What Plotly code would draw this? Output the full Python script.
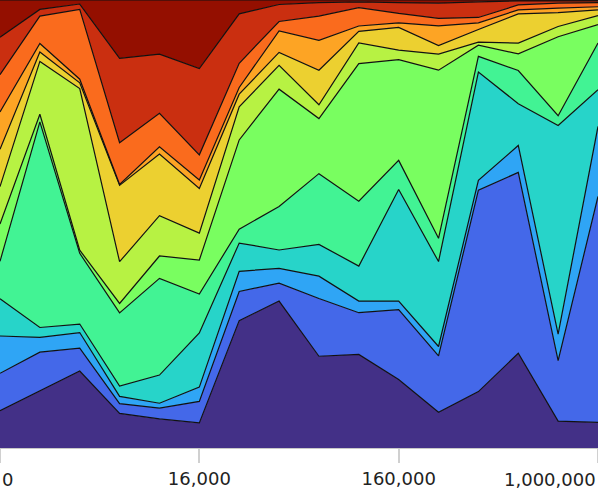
import plotly.graph_objs as go

# positions along the x axis (one per sample) and the labelled ticks
points = list(range(16))
tick_pos = [0, 5, 10, 15]
tick_labels = ['0', '16,000', '160,000', '1,000,000']

# share of each band (bottom to top)
purple = [8.3, 12.8, 17.2, 7.7, 6.5, 5.6, 28.4, 32.8, 20.5, 20.9, 15.3, 8.0, 12.6, 21.1, 6.0, 5.7]
blue = [8.3, 8.6, 5.1, 2.2, 2.4, 4.8, 6.5, 4.0, 12.9, 9.3, 15.6, 12.6, 45.0, 40.3, 13.5, 50.4]
light_blue = [8.3, 3.3, 3.5, 1.6, 1.1, 3.2, 4.5, 3.3, 5.0, 2.6, 1.9, 2.1, 2.2, 6.0, 5.9, 15.6]
cyan = [8.3, 2.2, 1.9, 2.3, 6.3, 12.1, 6.3, 4.1, 7.1, 7.8, 24.9, 19.0, 24.2, 9.3, 46.5, 8.2]
teal_green = [8.3, 45.9, 15.8, 16.3, 21.6, 8.7, 3.1, 9.7, 15.8, 14.5, 6.5, 5.2, 3.5, 7.4, 2.2, 10.4]
lime = [8.3, 1.7, 0.7, 2.1, 5.0, 7.6, 19.9, 26.2, 12.3, 30.7, 22.5, 37.6, 2.5, 3.7, 17.6, 4.1]
yellow_green = [8.3, 11.8, 36.1, 9.3, 9.0, 6.0, 7.4, 5.3, 3.1, 4.6, 2.1, 3.6, 0.7, 2.4, 2.3, 2.0]
yellow = [8.3, 2.1, 1.3, 17.0, 13.8, 10.0, 2.8, 2.9, 7.7, 2.6, 5.1, 1.9, 2.8, 6.5, 3.1, 1.3]
light_orange = [8.3, 1.9, 0.8, 0.2, 1.6, 1.9, 1.5, 4.8, 6.7, 1.2, 1.0, 4.4, 1.5, 0.9, 1.0, 0.7]
orange = [8.3, 6.1, 15.6, 9.3, 7.5, 5.6, 5.4, 2.1, 5.4, 4.1, 2.1, 1.7, 1.2, 1.1, 1.1, 0.9]
red = [8.3, 1.5, 1.2, 18.8, 13.2, 19.3, 11.0, 3.8, 3.0, 1.3, 2.4, 3.4, 3.5, 0.9, 0.5, 0.4]
dark_red = [8.3, 2.1, 0.9, 13.0, 12.1, 15.3, 3.1, 1.0, 0.6, 0.4, 0.6, 0.7, 0.4, 0.2, 0.2, 0.2]

layers = [purple, blue, light_blue, cyan, teal_green, lime,
          yellow_green, yellow, light_orange, orange, red, dark_red]
colors = ['#433087', '#4468e9', '#2fa5f5', '#27d4c9', '#42f394', '#79fe60',
          '#b7f243', '#ecd030', '#fda424', '#fa6b1d', '#ca2f10', '#940f00']

fig = go.Figure()
for values, color in zip(layers, colors):
    fig.add_trace(go.Scatter(x=points,
                             y=values,
                             mode='lines',
                             stackgroup='one',
                             groupnorm='percent',
                             fillcolor=color,
                             line={'color': '#111111', 'width': 1.2},
                             hoverinfo='skip'))

fig.update_layout(width=598,
                  height=491,
                  margin={'l': 0, 'r': 0, 't': 0, 'b': 43},
                  paper_bgcolor='white',
                  plot_bgcolor='white',
                  showlegend=False,
                  font={'family': 'DejaVu Sans', 'size': 18, 'color': '#222222'})
# middle labels sit on the ticks, the two edge labels are kept inside the page
fig.update_xaxes(range=[0, 15],
                 tickvals=tick_pos,
                 ticktext=['', tick_labels[1], tick_labels[2], ''],
                 ticks='outside',
                 ticklen=14,
                 tickwidth=2,
                 tickcolor='#d0d0d0',
                 showline=True,
                 linecolor='#c8c8c8',
                 linewidth=1,
                 showgrid=False,
                 zeroline=False)
fig.update_yaxes(range=[0, 100], visible=False)

fig.add_annotation(x=tick_pos[0], y=0, xref='x', yref='paper', text=tick_labels[0],
                   showarrow=False, xanchor='left', yanchor='top', yshift=-19)
fig.add_annotation(x=tick_pos[-1], y=0, xref='x', yref='paper', text=tick_labels[-1],
                   showarrow=False, xanchor='right', yanchor='top', yshift=-19)

# page body has an 8px margin by default, drop it so the figure fills the window
fig.write_html("out.html",
               config={'displayModeBar': False},
               post_script="document.body.style.margin = '0';")
